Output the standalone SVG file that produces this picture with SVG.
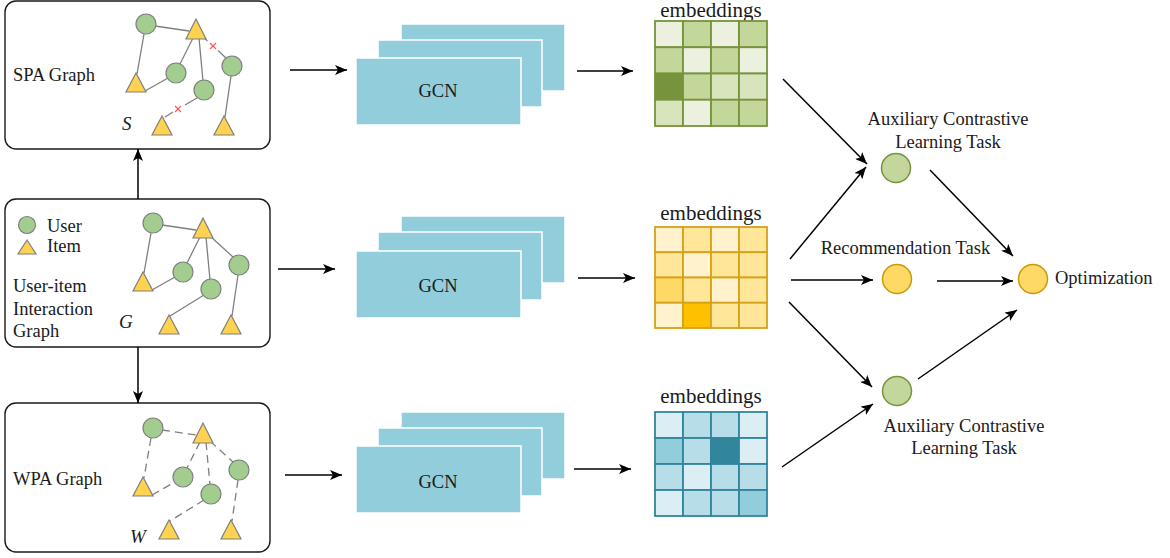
<svg xmlns="http://www.w3.org/2000/svg" width="1170" height="558" viewBox="0 0 1170 558">
<style>
text{font-family:'Liberation Serif','Times New Roman',Times,'DejaVu Serif',serif}
.box{fill:#fff;stroke:#1a1a1a;stroke-width:1.4}
.t{font-size:18.5px;fill:#1a1a1a}
.ti{font-size:19px;font-style:italic;fill:#1a1a1a}
.emb{font-size:21px;fill:#1a1a1a;text-anchor:middle}
.u{fill:#A2CD8E;stroke:#7F7F7F;stroke-width:1.2}
.i{fill:#FFD34F;stroke:#7F7F7F;stroke-width:1.2}
.e{stroke:#7F7F7F;stroke-width:1.3;fill:none}
.ed{stroke:#7F7F7F;stroke-width:1.3;fill:none;stroke-dasharray:8 5}
.x{stroke:#FF5A5A;stroke-width:1.2}
.gcn{fill:#92CDDC;stroke:#fff;stroke-width:1.5}
.a{stroke:#000;stroke-width:1.5;fill:none;marker-end:url(#ah)}
.cg{fill:#C3D69B;stroke:#77933C;stroke-width:1.5}
.cy{fill:#FFD966;stroke:#C99A06;stroke-width:1.5}
.gg rect{stroke:#77933C;stroke-width:1.8}
.gy rect{stroke:#D4A21A;stroke-width:1.8}
.gb rect{stroke:#31859C;stroke-width:1.8}
</style>
<defs>
<marker id="ah" markerUnits="userSpaceOnUse" markerWidth="13" markerHeight="10" refX="12" refY="5" orient="auto">
<path d="M0,0 L12,5 L0,10 L3,5 z" fill="#000"/>
</marker>
<g id="nodes">
<circle class="u" cx="153" cy="223" r="10"/>
<polygon class="i" points="203,218 193,238 213,238"/>
<circle class="u" cx="239" cy="265" r="10"/>
<polygon class="i" points="143,272 133,291 153,291"/>
<circle class="u" cx="183" cy="272" r="10"/>
<circle class="u" cx="211" cy="289" r="10"/>
<polygon class="i" points="169,315 159,334 179,334"/>
<polygon class="i" points="231,315 221,334 241,334"/>
</g>
</defs>

<!-- SPA Graph box -->
<g id="spa">
<rect class="box" x="5" y="1" width="265" height="148" rx="11"/>
<text class="t" x="13" y="81">SPA Graph</text>
<text class="ti" x="122" y="130">S</text>
<g transform="translate(-7,-199)">
<line class="e" x1="162" y1="225" x2="196" y2="230"/>
<line class="e" x1="151" y1="233" x2="144" y2="273"/>
<line class="e" x1="152" y1="290" x2="175" y2="277"/>
<line class="e" x1="200" y1="237" x2="187" y2="263"/>
<line class="e" x1="206" y1="237" x2="210" y2="280"/>
<line class="e" x1="210" y1="236" x2="214.5" y2="240"/>
<line class="e" x1="225" y1="249.5" x2="233" y2="257"/>
<line class="x" x1="217" y1="242" x2="223" y2="248"/>
<line class="x" x1="223" y1="242" x2="217" y2="248"/>
<line class="e" x1="204" y1="297" x2="192" y2="304"/>
<line class="e" x1="180" y1="311" x2="172" y2="316"/>
<line class="x" x1="182" y1="305" x2="188" y2="311"/>
<line class="x" x1="188" y1="305" x2="182" y2="311"/>
<line class="e" x1="238" y1="275" x2="232" y2="316"/>
<use href="#nodes"/>
</g>
</g>

<!-- User-item interaction graph box -->
<g id="uig">
<rect class="box" x="5" y="199" width="265" height="148" rx="11"/>
<circle class="u" cx="27" cy="225" r="8.5"/>
<text class="t" x="47" y="232">User</text>
<polygon class="i" points="27,240 18,254 36,254"/>
<text class="t" x="47" y="252">Item</text>
<text class="t" x="13" y="292">User-item</text>
<text class="t" x="13" y="314.5">Interaction</text>
<text class="t" x="13" y="337">Graph</text>
<text class="ti" x="119" y="328">G</text>
<line class="e" x1="162" y1="225" x2="196" y2="230"/>
<line class="e" x1="151" y1="233" x2="144" y2="273"/>
<line class="e" x1="152" y1="290" x2="175" y2="277"/>
<line class="e" x1="200" y1="237" x2="187" y2="263"/>
<line class="e" x1="206" y1="237" x2="210" y2="280"/>
<line class="e" x1="210" y1="236" x2="233" y2="257"/>
<line class="e" x1="204" y1="295" x2="170" y2="316"/>
<line class="e" x1="238" y1="275" x2="232" y2="316"/>
<use href="#nodes"/>
</g>

<!-- WPA Graph box -->
<g id="wpa">
<rect class="box" x="5" y="403" width="265" height="149" rx="11"/>
<text class="t" x="13" y="485">WPA Graph</text>
<text class="ti" x="130" y="543">W</text>
<g transform="translate(0,205)">
<line class="ed" x1="162" y1="225" x2="196" y2="230"/>
<line class="ed" x1="151" y1="233" x2="144" y2="273"/>
<line class="ed" x1="152" y1="290" x2="175" y2="277"/>
<line class="ed" x1="200" y1="237" x2="187" y2="263"/>
<line class="ed" x1="206" y1="237" x2="210" y2="280"/>
<line class="ed" x1="210" y1="236" x2="233" y2="257"/>
<line class="ed" x1="204" y1="295" x2="170" y2="316"/>
<line class="ed" x1="238" y1="275" x2="232" y2="316"/>
<use href="#nodes"/>
</g>
</g>

<!-- GCN stacks -->
<g id="gcn1">
<rect class="gcn" x="401" y="24" width="164" height="67"/>
<rect class="gcn" x="378" y="40" width="164" height="67"/>
<rect class="gcn" x="356" y="58" width="165" height="67"/>
<text class="t" x="438" y="97" text-anchor="middle">GCN</text>
</g>
<g id="gcn2">
<rect class="gcn" x="401" y="216" width="164" height="67"/>
<rect class="gcn" x="378" y="232" width="164" height="68"/>
<rect class="gcn" x="356" y="251" width="165" height="67"/>
<text class="t" x="438" y="292" text-anchor="middle">GCN</text>
</g>
<g id="gcn3">
<rect class="gcn" x="401" y="412" width="164" height="67"/>
<rect class="gcn" x="378" y="428" width="164" height="68"/>
<rect class="gcn" x="356" y="446" width="165" height="67"/>
<text class="t" x="438" y="488" text-anchor="middle">GCN</text>
</g>

<!-- Embeddings -->
<g id="emb1" class="gg">
<text class="emb" x="711" y="17">embeddings</text>
<rect x="655" y="21" width="28" height="26.25" fill="#EBF1DE"/>
<rect x="683" y="21" width="28" height="26.25" fill="#C4D79B"/>
<rect x="711" y="21" width="28" height="26.25" fill="#EBF1DE"/>
<rect x="739" y="21" width="28" height="26.25" fill="#C4D79B"/>
<rect x="655" y="47.25" width="28" height="26.25" fill="#C4D79B"/>
<rect x="683" y="47.25" width="28" height="26.25" fill="#EBF1DE"/>
<rect x="711" y="47.25" width="28" height="26.25" fill="#C4D79B"/>
<rect x="739" y="47.25" width="28" height="26.25" fill="#EBF1DE"/>
<rect x="655" y="73.5" width="28" height="26.25" fill="#77933C"/>
<rect x="683" y="73.5" width="28" height="26.25" fill="#C4D79B"/>
<rect x="711" y="73.5" width="28" height="26.25" fill="#D8E4BC"/>
<rect x="739" y="73.5" width="28" height="26.25" fill="#D8E4BC"/>
<rect x="655" y="99.75" width="28" height="26.25" fill="#D8E4BC"/>
<rect x="683" y="99.75" width="28" height="26.25" fill="#EBF1DE"/>
<rect x="711" y="99.75" width="28" height="26.25" fill="#C4D79B"/>
<rect x="739" y="99.75" width="28" height="26.25" fill="#C4D79B"/>
</g>
<g id="emb2" class="gy">
<text class="emb" x="711" y="220">embeddings</text>
<rect x="655" y="227" width="28" height="25.25" fill="#FFF2CC"/>
<rect x="683" y="227" width="28" height="25.25" fill="#FFE699"/>
<rect x="711" y="227" width="28" height="25.25" fill="#FFF2CC"/>
<rect x="739" y="227" width="28" height="25.25" fill="#FFE699"/>
<rect x="655" y="252.25" width="28" height="25.25" fill="#FFE699"/>
<rect x="683" y="252.25" width="28" height="25.25" fill="#FFF2CC"/>
<rect x="711" y="252.25" width="28" height="25.25" fill="#FFE699"/>
<rect x="739" y="252.25" width="28" height="25.25" fill="#FFE699"/>
<rect x="655" y="277.5" width="28" height="25.25" fill="#FFD966"/>
<rect x="683" y="277.5" width="28" height="25.25" fill="#FFE699"/>
<rect x="711" y="277.5" width="28" height="25.25" fill="#FFF2CC"/>
<rect x="739" y="277.5" width="28" height="25.25" fill="#FFE699"/>
<rect x="655" y="302.75" width="28" height="25.25" fill="#FFF2CC"/>
<rect x="683" y="302.75" width="28" height="25.25" fill="#FFC000"/>
<rect x="711" y="302.75" width="28" height="25.25" fill="#FFE699"/>
<rect x="739" y="302.75" width="28" height="25.25" fill="#FFE699"/>
</g>
<g id="emb3" class="gb">
<text class="emb" x="711" y="403">embeddings</text>
<rect x="655" y="412" width="28" height="26" fill="#DAEEF3"/>
<rect x="683" y="412" width="28" height="26" fill="#B7DEE8"/>
<rect x="711" y="412" width="28" height="26" fill="#B7DEE8"/>
<rect x="739" y="412" width="28" height="26" fill="#DAEEF3"/>
<rect x="655" y="438" width="28" height="26" fill="#92CDDC"/>
<rect x="683" y="438" width="28" height="26" fill="#B7DEE8"/>
<rect x="711" y="438" width="28" height="26" fill="#31859C"/>
<rect x="739" y="438" width="28" height="26" fill="#DAEEF3"/>
<rect x="655" y="464" width="28" height="26" fill="#B7DEE8"/>
<rect x="683" y="464" width="28" height="26" fill="#DAEEF3"/>
<rect x="711" y="464" width="28" height="26" fill="#B7DEE8"/>
<rect x="739" y="464" width="28" height="26" fill="#B7DEE8"/>
<rect x="655" y="490" width="28" height="26" fill="#DAEEF3"/>
<rect x="683" y="490" width="28" height="26" fill="#B7DEE8"/>
<rect x="711" y="490" width="28" height="26" fill="#B7DEE8"/>
<rect x="739" y="490" width="28" height="26" fill="#92CDDC"/>
</g>

<!-- Task nodes -->
<g id="aux1">
<circle class="cg" cx="896" cy="168" r="14.5"/>
<text class="t" x="948" y="125" text-anchor="middle">Auxiliary Contrastive</text>
<text class="t" x="948" y="148" text-anchor="middle">Learning Task</text>
</g>
<g id="rec">
<circle class="cy" cx="897" cy="279" r="14.5"/>
<text class="t" x="905.5" y="254" text-anchor="middle">Recommendation Task</text>
</g>
<g id="opt">
<circle class="cy" cx="1033" cy="279" r="14.5"/>
<text class="t" x="1055" y="284">Optimization</text>
</g>
<g id="aux2">
<circle class="cg" cx="897" cy="391" r="14.5"/>
<text class="t" x="964" y="432" text-anchor="middle">Auxiliary Contrastive</text>
<text class="t" x="964" y="454" text-anchor="middle">Learning Task</text>
</g>

<!-- Connectors -->
<g id="connectors">
<line class="a" x1="138" y1="199" x2="138" y2="149"/>
<line class="a" x1="138" y1="347" x2="138" y2="403"/>
<line class="a" x1="290" y1="70" x2="347" y2="70"/>
<line class="a" x1="577" y1="71" x2="633" y2="71"/>
<line class="a" x1="278" y1="269" x2="335" y2="269"/>
<line class="a" x1="578" y1="278" x2="635" y2="278"/>
<line class="a" x1="285" y1="475" x2="342" y2="475"/>
<line class="a" x1="574" y1="469" x2="631" y2="469"/>
<line class="a" x1="783" y1="79" x2="867" y2="164"/>
<line class="a" x1="790" y1="259" x2="866" y2="167"/>
<line class="a" x1="791" y1="280" x2="873" y2="280"/>
<line class="a" x1="789" y1="302" x2="872" y2="387"/>
<line class="a" x1="782" y1="467" x2="873" y2="404"/>
<line class="a" x1="930" y1="170" x2="1013" y2="256"/>
<line class="a" x1="937" y1="281" x2="1013" y2="281"/>
<line class="a" x1="918" y1="379" x2="1017" y2="310"/>
</g>
</svg>
